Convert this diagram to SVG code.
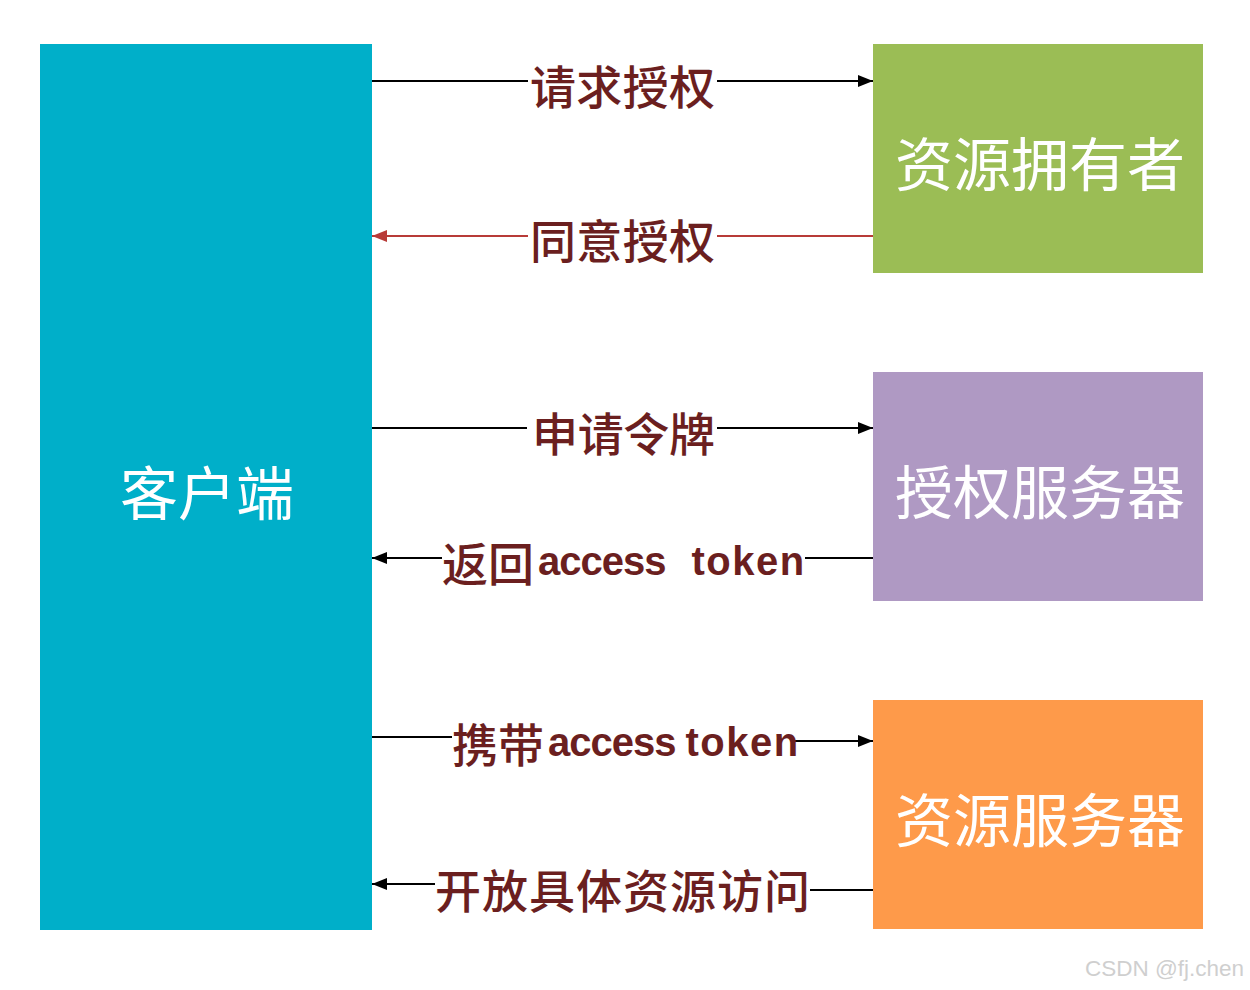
<svg xmlns="http://www.w3.org/2000/svg" width="1250" height="990" viewBox="0 0 1250 990">
<defs>
<marker id="ab" markerUnits="userSpaceOnUse" markerWidth="16" markerHeight="12" refX="15" refY="6" orient="auto"><path d="M0,0 L15,6 L0,12 z" fill="#000"/></marker>
<marker id="ar" markerUnits="userSpaceOnUse" markerWidth="16" markerHeight="12" refX="15" refY="6" orient="auto"><path d="M0,0 L15,6 L0,12 z" fill="#B83B38"/></marker>
</defs>
<style>
.box{stroke:none}
.bt{font-family:"Noto Sans CJK SC","Noto Sans",sans-serif;font-size:58px;fill:#fff;text-anchor:middle;dominant-baseline:central}
.lb{font-family:"Noto Sans CJK SC","Noto Sans",sans-serif;font-size:46px;font-weight:500;fill:#6B1F1F;dominant-baseline:central}
.en{font-family:"Liberation Sans",Arial,sans-serif;font-weight:bold;font-size:40px;letter-spacing:-1px}
.tk{font-family:"Liberation Sans",Arial,sans-serif;font-weight:bold;font-size:40px;letter-spacing:1.5px}
.k{stroke:#000;stroke-width:2;fill:none}
.r{stroke:#B83B38;stroke-width:2;fill:none}
.wm{font-family:"Liberation Sans",Arial,sans-serif;font-size:22.5px;fill:#cfcfcf}
</style>
<rect width="1250" height="990" fill="#fff"/>
<g id="client"><rect class="box" x="40" y="44" width="332" height="886" fill="#00AFC9"/><text class="bt" x="207" y="490">客户端</text></g>
<g id="owner"><rect class="box" x="873" y="44" width="330" height="229" fill="#9BBD55"/><text class="bt" x="1040" y="161">资源拥有者</text></g>
<g id="auth"><rect class="box" x="873" y="372" width="330" height="229" fill="#AF99C3"/><text class="bt" x="1040" y="489">授权服务器</text></g>
<g id="resource"><rect class="box" x="873" y="700" width="330" height="229" fill="#FE9A4A"/><text class="bt" x="1040" y="817">资源服务器</text></g>
<g id="connectors">
<line class="k" x1="372" y1="81" x2="528" y2="81"/><line class="k" x1="717" y1="81" x2="873" y2="81" marker-end="url(#ab)"/>
<text class="lb" x="530" y="84" textLength="185">请求授权</text>
<line class="r" x1="873" y1="236" x2="717" y2="236"/><line class="r" x1="528" y1="236" x2="372" y2="236" marker-end="url(#ar)"/>
<text class="lb" x="530" y="238" textLength="185">同意授权</text>
<line class="k" x1="372" y1="428" x2="527" y2="428"/><line class="k" x1="717" y1="428" x2="873" y2="428" marker-end="url(#ab)"/>
<text class="lb" x="532" y="431" textLength="183">申请令牌</text>
<line class="k" x1="873" y1="558" x2="805" y2="558"/><line class="k" x1="442" y1="558" x2="372" y2="558" marker-end="url(#ab)"/>
<text class="lb" x="442" y="561">返回<tspan class="en" dx="4">access</tspan><tspan class="tk" dx="26">token</tspan></text>
<line class="k" x1="372" y1="737" x2="452" y2="737"/><line class="k" x1="795" y1="741" x2="873" y2="741" marker-end="url(#ab)"/>
<text class="lb" x="452" y="742">携带<tspan class="en" dx="4">access</tspan><tspan class="tk" dx="10">token</tspan></text>
<line class="k" x1="873" y1="890" x2="810" y2="890"/><line class="k" x1="435" y1="884" x2="372" y2="884" marker-end="url(#ab)"/>
<text class="lb" x="435" y="888" textLength="375">开放具体资源访问</text>
</g>
<text class="wm" x="1085" y="976">CSDN @fj.chen</text>
</svg>
